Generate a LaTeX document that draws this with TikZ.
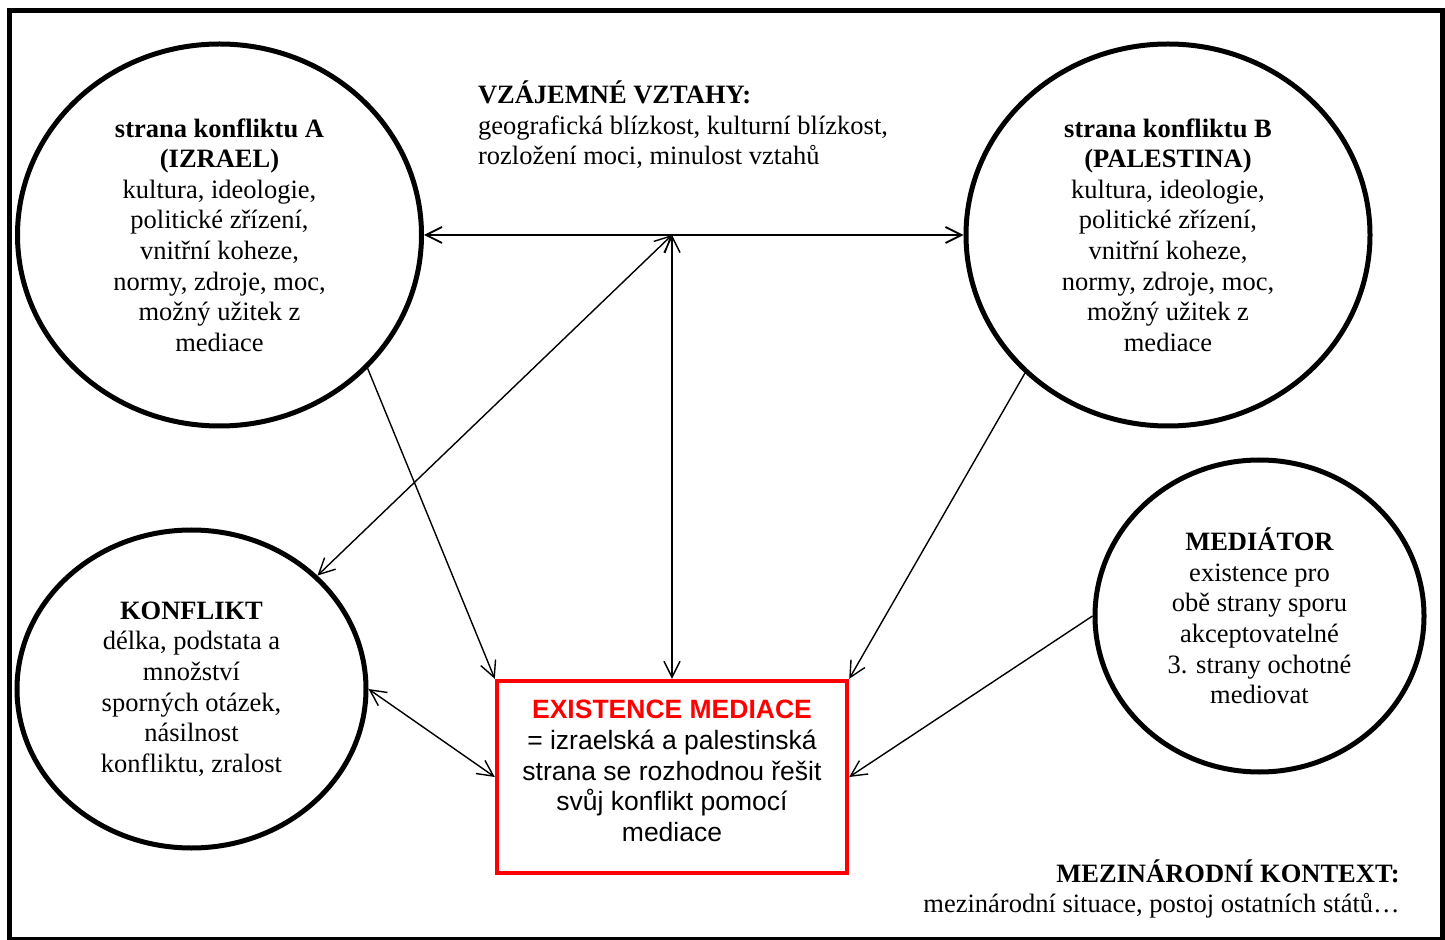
\documentclass[tikz,border=0pt]{standalone}
\usepackage{fontspec}
\setmainfont{Liberation Serif}
\newfontfamily\arialfont{Liberation Sans}
\usetikzlibrary{shapes.geometric,arrows.meta,calc}
\begin{document}
\begin{tikzpicture}[x=0.5pt,y=-0.5pt,
  >={Straight Barb[length=8pt,width=8pt]},
  every node/.style={font=\fontsize{13.25}{15.3}\selectfont, align=center, inner sep=0pt},
  party/.style={ellipse, draw, line width=2.5pt},
  mainbox/.style={draw=red, line width=2.2pt, minimum width=175pt, minimum height=96pt},
  boxtext/.style={font=\arialfont\fontsize{13.25}{15.3}\selectfont},
  conn/.style={line width=0.7pt},
  frame/.style={line width=2.5pt}
]
\useasboundingbox (0,0) rectangle (1445,940);
\draw[frame] (9,11) rectangle (1442,939);

\node[party, minimum width=202pt, minimum height=191pt] (A) at (219.5,235)
  {\textbf{strana konfliktu A}\\\textbf{(IZRAEL)}\\kultura, ideologie,\\politické zřízení,\\vnitřní koheze,\\normy, zdroje, moc,\\možný užitek z\\mediace};
\node[party, minimum width=202pt, minimum height=191pt] (B) at (1168,235)
  {\textbf{strana konfliktu B}\\\textbf{(PALESTINA)}\\kultura, ideologie,\\politické zřízení,\\vnitřní koheze,\\normy, zdroje, moc,\\možný užitek z\\mediace};
\node[party, minimum width=174.5pt, minimum height=159pt] (K) at (191.5,689)
  {\textbf{KONFLIKT}\\délka, podstata a\\množství\\sporných otázek,\\násilnost\\konfliktu, zralost};
\node[party, minimum width=164.5pt, minimum height=156pt] (M) at (1259.5,616)
  {\textbf{MEDIÁTOR}\\existence pro\\obě strany sporu\\akceptovatelné\\3. strany ochotné\\mediovat};
\node[mainbox] (box) at (672,777) {};
\node[boxtext] (boxlabel) at (672,771)
  {{\bfseries\color{red}EXISTENCE MEDIACE}\\= izraelská a palestinská\\strana se rozhodnou řešit\\svůj konflikt pomocí\\mediace};

\node[align=left] (vztahy) at (683,125)
  {\textbf{VZÁJEMNÉ VZTAHY:}\\geografická blízkost, kulturní blízkost,\\rozložení moci, minulost vztahů};
\node[align=right, anchor=east] (kontext) at (1400,889)
  {\textbf{MEZINÁRODNÍ KONTEXT:}\\mezinárodní situace, postoj ostatních států…};

\coordinate (J) at (box.north |- A.east);
\draw[conn, line width=0.9pt, <->] (A.east) -- (B.west);
\draw[conn, <->] (J) -- (box.north);
\draw[conn, <->] (J) -- (K.42);
\draw[conn, ->] (A.-42.6) -- (box.north west);
\draw[conn, ->] (B.-136.5) -- (box.north east);
\draw[conn, <->] (K.east) -- (box.west);
\draw[conn, ->] (M.west) -- (box.east);
\end{tikzpicture}
\end{document}
